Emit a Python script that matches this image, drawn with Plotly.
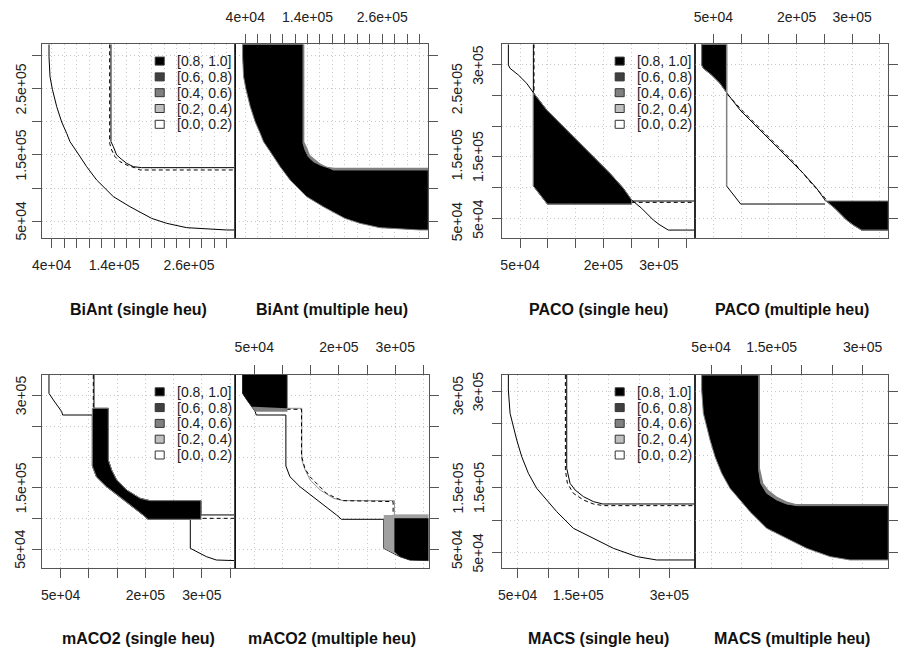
import plotly.graph_objects as go

# page body has an 8px margin: lay out in reference pixels, shifted by OFF
OFF = 8
W, H = 911, 642
FONT = "Liberation Sans, Arial, Helvetica, sans-serif"

# ---------------- axis ranges ----------------
BIANT_XRANGE = [24000, 334000]
BIANT_YRANGE = [24700, 317700]
PACO_XRANGE = [17000, 365000]
PACO_YRANGE = [18600, 332800]
MACO2_XRANGE = [16400, 359300]
MACO2_YRANGE = [19100, 333600]
MACS_XRANGE = [23600, 342300]
MACS_YRANGE = [25200, 324800]

# ---------------- ticks ----------------
BIANT_XTICKS = list(range(40000, 320001, 20000))
BIANT_XLABELS = {40000: "4e+04", 140000: "1.4e+05", 260000: "2.6e+05"}
BIANT_YTICKS = list(range(50000, 300001, 50000))
BIANT_YLABELS = {50000: "5e+04", 150000: "1.5e+05", 250000: "2.5e+05"}
PACO_XTICKS = list(range(50000, 350001, 50000))
PACO_XLABELS = {50000: "5e+04", 200000: "2e+05", 300000: "3e+05"}
STD_YTICKS = list(range(50000, 300001, 50000))
STD_YLABELS = {50000: "5e+04", 150000: "1.5e+05", 300000: "3e+05"}
MACS_XTICKS = list(range(50000, 300001, 50000))
MACS_XLABELS = {50000: "5e+04", 150000: "1.5e+05", 300000: "3e+05"}

LEVELS = ["[0.8, 1.0]", "[0.6, 0.8)", "[0.4, 0.6)", "[0.2, 0.4)", "[0.0, 0.2)"]
LEVEL_COLORS = ["#000000", "#404040", "#808080", "#bfbfbf", "#ffffff"]

TITLES = [("BiAnt (single heu)", "BiAnt (multiple heu)"),
          ("PACO (single heu)", "PACO (multiple heu)"),
          ("mACO2 (single heu)", "mACO2 (multiple heu)"),
          ("MACS (single heu)", "MACS (multiple heu)")]

# ---------------- BiAnt curves ----------------
BIANT_BEST_X = [35700, 35700, 37300, 41100, 48000, 56000, 64000, 69300, 83700, 96000,
                112000, 138700, 165300, 200000, 224000, 256000, 320000, 334000]
BIANT_BEST_Y = [317700, 299000, 268700, 249500, 223300, 200000, 182800, 170200, 150000, 132300,
                112100, 86900, 71700, 54000, 46500, 39900, 36400, 36400]
BIANT_WORST_X = [134900, 134900, 138700, 144000, 152000, 160000, 170700, 184000, 334000]
BIANT_WORST_Y = [317700, 170200, 162600, 150000, 143400, 137400, 132300, 130800, 130800]
BIANT_MED_X = [132800, 132800, 136000, 141300, 149300, 162700, 176000, 181300, 334000]
BIANT_MED_Y = [317700, 167700, 157600, 147500, 139900, 133800, 129800, 127300, 127300]

# ---------------- PACO curves ----------------
PACO_BEST_X = [29000, 29000, 32000, 47000, 62000, 74000, 98000, 122000, 152000, 182000,
               212000, 236000, 251000, 269000, 290000, 302000, 317000, 365000]
PACO_BEST_Y = [332800, 299200, 293800, 282900, 269400, 254200, 226100, 204400, 177300, 150200,
               123100, 98800, 79800, 66300, 47300, 39200, 31000, 31000]
PACO_WORST_X = [74000, 74000, 99200, 251000]
PACO_WORST_Y = [332800, 102500, 73300, 73300]
PACO_TAIL_X = [251000, 365000]
PACO_TAIL_Y = [78200, 78200]
PACO_MED_S_X = [75200, 75200, None, 251000, 365000]
PACO_MED_S_Y = [332800, 251500, None, 76000, 76000]
PACO_MED_M_X = [75200, 104000, 134000, 164000, 194000, 224000, 254000]
PACO_MED_M_Y = [251500, 223300, 196300, 169200, 142100, 109600, 79800]

# ---------------- mACO2 curves ----------------
MACO2_BEST_X = [29300, 29300, 37000, 45900, 51800, 53500, 106100, 106100, 113200, 130900,
                154500, 178100, 195800, 204700, 279600, 279600, 290300, 308000, 325700, 359300]
MACO2_BEST_Y = [333600, 303800, 293000, 282100, 274000, 268500, 268500, 185600, 168200, 152000,
                135700, 119400, 105900, 98800, 98800, 51600, 46200, 38100, 32600, 31600]
MACO2_WORST_X = [109000, 109000, 134400, 134400, 140300, 149200, 166900, 190500, 208200,
                 298500, 298500, 359300]
MACO2_WORST_Y = [333600, 279400, 279400, 195300, 179100, 162800, 146500, 133000, 129200,
                 129200, 105900, 105900]
MACO2_MED_S_X = [107800, 107800, None, 202300, 359300]
MACO2_MED_S_Y = [333600, 281000, None, 100400, 100400]
MACO2_MED_M_X = [107300, 133800, 133800, 139700, 148600, 160400, 178100, 195800, 207600, 296200, 296200]
MACO2_MED_M_Y = [277800, 277800, 201800, 181800, 168200, 157400, 141100, 133000, 129200, 127600, 105900]

# ---------------- MACS curves ----------------
MACS_BEST_X = [34600, 34600, 37400, 42900, 48400, 56600, 67600, 81300, 97800, 114300,
               141800, 174700, 207700, 246200, 279100, 342300]
MACS_BEST_Y = [324800, 301500, 265400, 244700, 224100, 198200, 172400, 149200, 131100, 113000,
               87200, 71700, 56200, 43300, 38100, 38100]
MACS_WORST_X = [130800, 130800, 136300, 144600, 158300, 174700, 190100, 342300]
MACS_WORST_Y = [324800, 180100, 156900, 146600, 136300, 128600, 124900, 124900]
MACS_MED_X = [128600, 128600, 131900, 141800, 158300, 174700, 191200, 342300]
MACS_MED_Y = [324800, 177500, 156900, 141400, 131100, 124900, 122300, 122300]

# ---------------- layout geometry (reference pixels) ----------------
# (left, middle, right, top, bottom)
GEOM = [(41.7, 235.3, 428.3, 44.3, 237.7),
        (501.7, 695.0, 888.3, 44.3, 237.7),
        (41.7, 235.3, 428.7, 375.0, 568.3),
        (501.7, 695.0, 888.3, 375.0, 568.3)]
TITLE_Y = [309, 309, 638, 638]
# horizontal distance of the rotated y tick labels from the axis line
YLAB_OFF_LEFT = [21.2, 23.4, 21.2, 23.4]
YLAB_OFF_RIGHT = 29.0


def px(x):
    return (x - OFF) / W


def py(y):
    return 1 - (y - OFF) / H


fig = go.Figure()


def ids(n):
    return ("x" if n == 1 else f"x{n}", "y" if n == 1 else f"y{n}")


def P(xs, ys):
    return list(zip(xs, ys))


def add_line(n, xs, ys, color="black", width=1, dash="solid"):
    xa, ya = ids(n)
    fig.add_trace(go.Scatter(x=xs, y=ys, mode="lines", xaxis=xa, yaxis=ya,
                             line=dict(color=color, width=width, dash=dash),
                             hoverinfo="skip", showlegend=False, connectgaps=False))


def add_poly(n, pts, fill, outline="#808080", width=1):
    xa, ya = ids(n)
    xs = [p[0] for p in pts] + [pts[0][0]]
    ys = [p[1] for p in pts] + [pts[0][1]]
    fig.add_trace(go.Scatter(x=xs, y=ys, mode="lines", fill="toself", fillcolor=fill,
                             xaxis=xa, yaxis=ya, line=dict(color=outline, width=width),
                             hoverinfo="skip", showlegend=False))


DASH = "4px,3px"

# ===== BiAnt =====
add_line(1, BIANT_BEST_X, BIANT_BEST_Y)
add_line(1, BIANT_WORST_X, BIANT_WORST_Y)
add_line(1, BIANT_MED_X, BIANT_MED_Y, dash=DASH)
add_poly(2, P(BIANT_BEST_X, BIANT_BEST_Y) + P(BIANT_WORST_X, BIANT_WORST_Y)[::-1], "#808080", width=0)
add_poly(2, P(BIANT_BEST_X, BIANT_BEST_Y) + P(BIANT_MED_X, BIANT_MED_Y)[::-1], "#000000")

# ===== PACO =====
add_line(3, PACO_BEST_X, PACO_BEST_Y)
add_line(3, PACO_WORST_X, PACO_WORST_Y)
add_line(3, PACO_TAIL_X, PACO_TAIL_Y)
add_line(3, PACO_MED_S_X, PACO_MED_S_Y, dash=DASH)
paco_best = P(PACO_BEST_X, PACO_BEST_Y)
paco_worst = P(PACO_WORST_X, PACO_WORST_Y)
add_poly(3, [paco_best[5]] + paco_worst[1:4] + paco_best[12:5:-1], "#000000")

add_line(4, PACO_BEST_X, PACO_BEST_Y)
add_line(4, PACO_MED_M_X, PACO_MED_M_Y, dash=DASH)
add_poly(4, paco_best[0:6] + [(PACO_WORST_X[0], PACO_BEST_Y[5]), (PACO_WORST_X[0], PACO_YRANGE[1])], "#000000")
add_line(4, PACO_WORST_X[:2], PACO_WORST_Y[:2], color="#808080", width=1.5)
add_line(4, PACO_WORST_X[1:], PACO_WORST_Y[1:])
add_poly(4, [(PACO_TAIL_X[0], PACO_TAIL_Y[0]), (PACO_TAIL_X[1], PACO_TAIL_Y[1]),
             (PACO_XRANGE[1], PACO_BEST_Y[-1])] + paco_best[16:11:-1], "#000000")

# ===== mACO2 =====
mb = P(MACO2_BEST_X, MACO2_BEST_Y)
mw = P(MACO2_WORST_X, MACO2_WORST_Y)
add_line(5, MACO2_BEST_X, MACO2_BEST_Y)
add_line(5, MACO2_WORST_X, MACO2_WORST_Y)
add_line(5, MACO2_MED_S_X, MACO2_MED_S_Y, dash=DASH)
add_poly(5, [(MACO2_BEST_X[6], MACO2_WORST_Y[2])] + mb[7:14] +
         [(MACO2_WORST_X[9], MACO2_BEST_Y[13])] + mw[9:1:-1], "#000000")

add_line(6, MACO2_BEST_X, MACO2_BEST_Y)
add_line(6, MACO2_WORST_X, MACO2_WORST_Y, color="#909090")
add_line(6, MACO2_MED_M_X, MACO2_MED_M_Y, dash=DASH)
add_poly(6, mb[0:5] + [(MACO2_WORST_X[0], MACO2_BEST_Y[4]), (MACO2_WORST_X[0], MACO2_YRANGE[1])],
         "#808080", width=0)
add_poly(6, mb[0:4] + [(MACO2_MED_S_X[0], MACO2_WORST_Y[1]), (MACO2_MED_S_X[0], MACO2_YRANGE[1])],
         "#000000", width=0)
add_poly(6, [(MACO2_BEST_X[14], MACO2_WORST_Y[10]), (MACO2_XRANGE[1], MACO2_WORST_Y[10]),
             (MACO2_XRANGE[1], MACO2_BEST_Y[19])] + mb[19:13:-1], "#a0a0a0", width=0)
add_poly(6, [(MACO2_WORST_X[9], MACO2_MED_S_Y[3]), (MACO2_XRANGE[1], MACO2_MED_S_Y[3]),
             (MACO2_XRANGE[1], MACO2_BEST_Y[19])] + mb[19:16:-1] +
         [(MACO2_WORST_X[9], MACO2_BEST_Y[16])], "#000000", width=0)

# ===== MACS =====
add_line(7, MACS_BEST_X, MACS_BEST_Y)
add_line(7, MACS_WORST_X, MACS_WORST_Y)
add_line(7, MACS_MED_X, MACS_MED_Y, dash=DASH)
add_poly(8, P(MACS_BEST_X, MACS_BEST_Y) + P(MACS_WORST_X, MACS_WORST_Y)[::-1], "#808080", width=0)
add_poly(8, P(MACS_BEST_X, MACS_BEST_Y) + P(MACS_MED_X, MACS_MED_Y)[::-1], "#000000")

# ---------------- axes ----------------
PANEL_AXES = [
    (BIANT_XRANGE, BIANT_YRANGE, BIANT_XTICKS, BIANT_XLABELS, BIANT_YTICKS, BIANT_YLABELS),
    (PACO_XRANGE, PACO_YRANGE, PACO_XTICKS, PACO_XLABELS, STD_YTICKS, STD_YLABELS),
    (MACO2_XRANGE, MACO2_YRANGE, PACO_XTICKS, PACO_XLABELS, STD_YTICKS, STD_YLABELS),
    (MACS_XRANGE, MACS_YRANGE, MACS_XTICKS, MACS_XLABELS, STD_YTICKS, STD_YLABELS),
]

TICKFONT = dict(family=FONT, size=14, color="#222222")
common = dict(showline=True, linecolor="#555555", linewidth=1, mirror=True,
              ticks="outside", ticklen=9, tickcolor="#555555", tickwidth=1,
              showgrid=True, gridcolor="#c8c8c8", griddash="1px,3px", gridwidth=1,
              zeroline=False, fixedrange=True, automargin=False, tickfont=TICKFONT)

shapes = []
annotations = []
for p, (xr, yr, xt, xl, yt, yl) in enumerate(PANEL_AXES):
    L, M, R, T, B = GEOM[p]
    ydom = [py(B), py(T)]
    for s in range(2):
        n = 2 * p + s + 1
        xa, ya = ids(n)
        xdom = [px(L), px(M)] if s == 0 else [px(M), px(R)]
        xname = "xaxis" if n == 1 else f"xaxis{n}"
        yname = "yaxis" if n == 1 else f"yaxis{n}"
        fig.update_layout(**{
            xname: dict(domain=xdom, range=xr, anchor=ya, side="bottom" if s == 0 else "top",
                        tickvals=xt, ticktext=[xl.get(v, "") for v in xt],
                        ticklabelstandoff=5 if s == 0 else 7, **common),
            yname: dict(domain=ydom, range=yr, anchor=xa, side="left" if s == 0 else "right",
                        tickvals=yt, showticklabels=False, **common),
        })
        # rotated y tick labels, placed on the axis scale
        lab_x = L - YLAB_OFF_LEFT[p] if s == 0 else R + YLAB_OFF_RIGHT
        for v in yt:
            if v in yl:
                annotations.append(dict(x=px(lab_x), y=v, xref="paper", yref=ya,
                                        text=yl[v], textangle=-90, showarrow=False,
                                        xanchor="center", yanchor="middle", font=TICKFONT))
        cx = px((L + M) / 2 if s == 0 else (M + R) / 2)
        annotations.append(dict(x=cx, y=py(TITLE_Y[p]), xref="paper", yref="paper",
                                text="<b>" + TITLES[p][s] + "</b>", showarrow=False,
                                font=dict(family=FONT, size=16, color="#111111"),
                                xanchor="center", yanchor="middle"))
    # divider
    shapes.append(dict(type="line", xref="paper", yref="paper", x0=px(M), x1=px(M),
                       y0=py(B), y1=py(T), line=dict(color="black", width=1), layer="above"))
    # legend
    for k, (lab, col) in enumerate(zip(LEVELS, LEVEL_COLORS)):
        cy = T + 16.8 + k * 15.8
        shapes.append(dict(type="rect", xref="paper", yref="paper",
                           x0=px(L + 113.5), x1=px(L + 122.5),
                           y0=py(cy + 4), y1=py(cy - 4),
                           fillcolor=col, line=dict(color="#333333", width=1), layer="above"))
        annotations.append(dict(x=px(L + 133.5), y=py(cy), xref="paper", yref="paper",
                                text=lab, showarrow=False, xanchor="left", yanchor="middle",
                                font=dict(family=FONT, size=14, color="#222222")))

fig.update_layout(width=W, height=H, margin=dict(l=0, r=0, t=0, b=0, pad=0, autoexpand=False),
                  paper_bgcolor="white", plot_bgcolor="white", showlegend=False,
                  shapes=shapes, annotations=annotations)

fig.write_html("out.html")
